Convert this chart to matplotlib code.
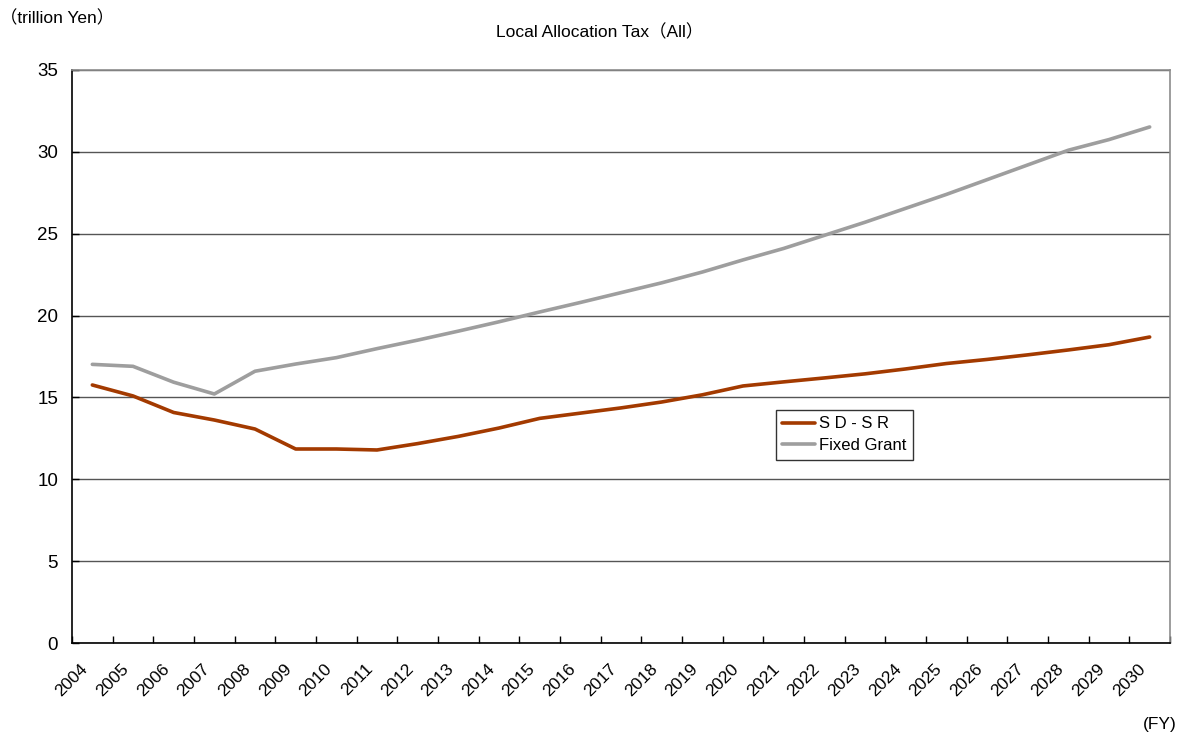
import matplotlib
matplotlib.use("Agg")
import matplotlib.pyplot as plt
from matplotlib.ticker import FixedLocator, NullFormatter

plt.rcParams['font.family'] = ['Liberation Sans', 'Noto Sans CJK JP', 'DejaVu Sans']

years = [str(y) for y in range(2004, 2031)]
sd_sr = [15.76, 15.09, 14.08, 13.62, 13.07, 11.85, 11.85, 11.79, 12.18, 12.62,
         13.13, 13.72, 14.04, 14.36, 14.72, 15.16, 15.70, 15.95, 16.19, 16.44,
         16.74, 17.07, 17.32, 17.60, 17.90, 18.22, 18.69]
fixed_grant = [17.02, 16.90, 15.93, 15.21, 16.60, 17.04, 17.43, 17.98, 18.50, 19.05,
               19.62, 20.22, 20.80, 21.40, 22.00, 22.66, 23.40, 24.10, 24.90, 25.70,
               26.55, 27.40, 28.30, 29.20, 30.10, 30.75, 31.52]
y_ticks = [0, 5, 10, 15, 20, 25, 30, 35]

fig = plt.figure(figsize=(11.85, 7.40), dpi=100)
ax = fig.add_axes([72/1185, 97/740, 1098/1185, 573/740])

x = list(range(len(years)))
ax.plot(x, sd_sr, color='#A33A00', lw=2.6, label='S D - S R', solid_capstyle='round')
ax.plot(x, fixed_grant, color='#9E9E9E', lw=2.6, label='Fixed Grant', solid_capstyle='round')

ax.set_xlim(-0.5, len(years) - 0.5)
ax.set_ylim(0, 35)
ax.set_yticks(y_ticks)
ax.yaxis.grid(True, color='#555555', lw=1)
ax.set_axisbelow(True)

# category boundaries carry tick marks; the slanted year labels hang
# just left of each category centre
ax.xaxis.set_major_locator(FixedLocator([i - 0.5 for i in range(len(years) + 1)]))
ax.xaxis.set_major_formatter(NullFormatter())
ax.xaxis.set_minor_locator(FixedLocator([i - 0.3 for i in x]))
ax.set_xticklabels(years, minor=True, rotation=45, ha='right',
                   rotation_mode='anchor', fontsize=12.5)
ax.tick_params(axis='x', which='major', direction='in', length=5, width=1, color='black')
ax.tick_params(axis='x', which='minor', length=0, pad=13)
ax.tick_params(axis='y', direction='in', length=5, width=1, labelsize=13.5, pad=10)

for side in ('left', 'bottom'):
    ax.spines[side].set_color('black')
    ax.spines[side].set_linewidth(1.2)
for side in ('top', 'right'):
    ax.spines[side].set_color('#8C8C8C')
    ax.spines[side].set_linewidth(1.2)

leg = ax.legend(loc='upper left', bbox_to_anchor=(0.641, 0.407), borderaxespad=0,
                frameon=True, fancybox=False, edgecolor='black', fontsize=12,
                handlelength=1.95, handletextpad=0.25, borderpad=0.4, labelspacing=0.4)
leg.get_frame().set_linewidth(1)

fig.text(600/1185, 1 - 32/740, 'Local Allocation Tax（All）', ha='center', va='center', fontsize=12.5)
fig.text(0, 1 - 18/740, '（trillion Yen）', ha='left', va='center', fontsize=12.5)
fig.text(1177/1185, 1 - 725/740, '(FY)', ha='right', va='center', fontsize=12.5)

fig.savefig('out.png', dpi=100, facecolor='white')
